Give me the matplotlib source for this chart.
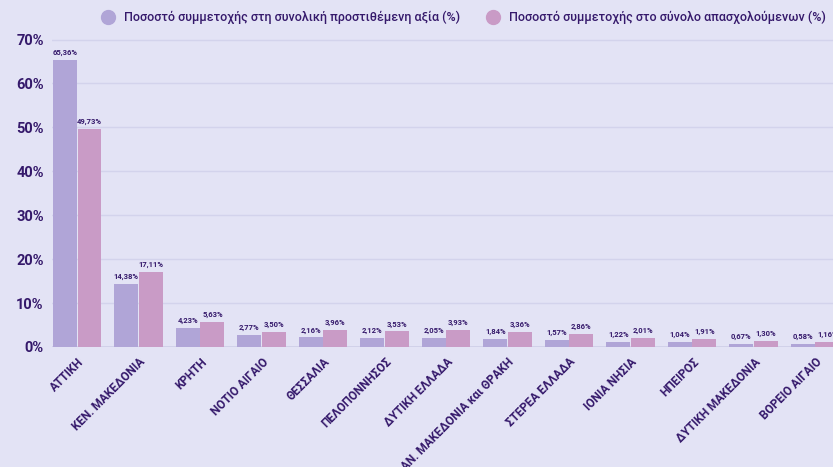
import matplotlib.pyplot as plt
import numpy as np
from matplotlib.lines import Line2D
from matplotlib import font_manager

regions = ['ΑΤΤΙΚΗ', 'ΚΕΝ. ΜΑΚΕΔΟΝΙΑ', 'ΚΡΗΤΗ', 'ΝΟΤΙΟ ΑΙΓΑΙΟ', 'ΘΕΣΣΑΛΙΑ',
           'ΠΕΛΟΠΟΝΝΗΣΟΣ', 'ΔΥΤΙΚΗ ΕΛΛΑΔΑ', 'ΑΝ. ΜΑΚΕΔΟΝΙΑ και ΘΡΑΚΗ',
           'ΣΤΕΡΕΑ ΕΛΛΑΔΑ', 'ΙΟΝΙΑ ΝΗΣΙΑ', 'ΗΠΕΙΡΟΣ', 'ΔΥΤΙΚΗ ΜΑΚΕΔΟΝΙΑ',
           'ΒΟΡΕΙΟ ΑΙΓΑΙΟ']
value_added = [65.36, 14.38, 4.23, 2.77, 2.16, 2.12, 2.05, 1.84, 1.57, 1.22, 1.04, 0.67, 0.58]
employment = [49.73, 17.11, 5.63, 3.50, 3.96, 3.53, 3.93, 3.36, 2.86, 2.01, 1.91, 1.30, 1.16]
series_names = ['Ποσοστό συμμετοχής στη συνολική προστιθέμενη αξία (%)',
                'Ποσοστό συμμετοχής στο σύνολο απασχολούμενων (%)']

bg = '#e3e3f5'
dark = '#35196b'
purple = '#b0a5d7'
pink = '#c99bc6'

plt.rcParams['font.family'] = ['Roboto', 'DejaVu Sans']

# condensed face for the legend if there is one
names = {f.name for f in font_manager.fontManager.ttflist}
if 'Liberation Sans Narrow' in names:
    leg_font = {'family': 'Liberation Sans Narrow', 'weight': 'bold', 'size': 11}
else:
    leg_font = {'family': 'Roboto', 'weight': 'medium', 'size': 9}

fig = plt.figure(figsize=(8.33, 4.67), dpi=100, facecolor=bg)
ax = fig.add_axes([0.0624, 0.257, 0.9376, 0.662])
ax.set_facecolor(bg)

x = np.arange(len(regions))
w = 0.39
b1 = ax.bar(x - 0.2, value_added, w, color=purple, zorder=3)
b2 = ax.bar(x + 0.2, employment, w, color=pink, zorder=3)

for bars, vals in ((b1, value_added), (b2, employment)):
    for bar, v in zip(bars, vals):
        ax.text(bar.get_x() + bar.get_width() / 2, v + 0.9,
                f'{v:.2f}%'.replace('.', ','), ha='center', va='bottom',
                fontsize=5.5, fontweight='bold', color=dark, clip_on=False)

ax.set_xlim(-0.41, 12.29)
ax.set_ylim(0, 70.4)
ax.set_yticks(range(0, 71, 10))
ax.set_yticklabels([f'{v}%' for v in range(0, 71, 10)])
ax.yaxis.grid(True, color='#d3d3ec', linewidth=1, zorder=0)
ax.axhline(0, color='#cfcfe8', linewidth=1.2, zorder=2)
for s in ax.spines.values():
    s.set_visible(False)
ax.tick_params(axis='both', length=0, colors=dark)
ax.tick_params(axis='y', pad=6)
for lab in ax.get_yticklabels():
    lab.set_fontsize(10.5)
    lab.set_fontweight('bold')

ax.set_xticks(x)
ax.set_xticklabels(regions, rotation=45, ha='right', rotation_mode='anchor',
                   fontsize=8.5, fontweight='bold', color=dark)
ax.tick_params(axis='x', pad=6)

handles = [Line2D([], [], marker='o', linestyle='', markersize=10,
                  markerfacecolor=c, markeredgecolor=c) for c in (purple, pink)]
fig.legend(handles, series_names, loc='center', bbox_to_anchor=(0.553, 0.963),
           ncol=2, frameon=False, labelcolor=dark,
           handletextpad=0.3, columnspacing=1.6, prop=leg_font)

fig.savefig('out.png', dpi=100, facecolor=bg)
